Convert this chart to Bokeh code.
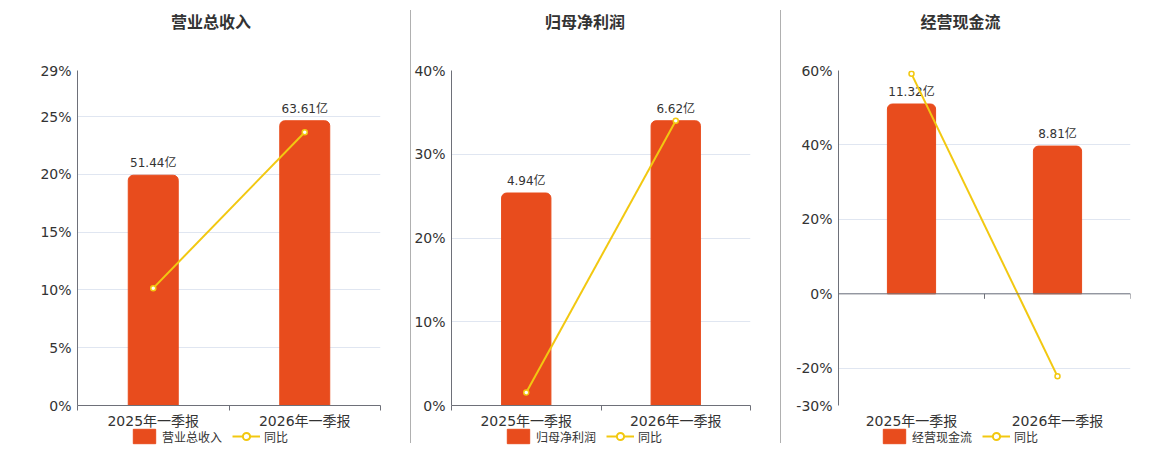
from bokeh.plotting import figure
from bokeh.models import (Range1d, FixedTicker, Legend, LegendItem, Span, Div, Label)
from bokeh.layouts import row, column
from bokeh.embed import file_html
from bokeh.resources import INLINE
from bokeh.core.properties import value

# ---------------- data ----------------
categories = ["2025年一季报", "2026年一季报"]
titles = ["营业总收入", "归母净利润", "经营现金流"]
revenue = [51.44, 63.61]
net_profit = [4.94, 6.62]
cash_flow = [11.32, 8.81]
revenue_labels = ["51.44亿", "63.61亿"]
net_profit_labels = ["4.94亿", "6.62亿"]
cash_flow_labels = ["11.32亿", "8.81亿"]
revenue_yoy = [10.16, 23.66]
net_profit_yoy = [1.55, 34.01]
cash_flow_yoy = [59.1, -22.17]
revenue_ticks = [0, 5, 10, 15, 20, 25, 29]
net_profit_ticks = [0, 10, 20, 30, 40]
cash_flow_ticks = [-30, -20, 0, 20, 40, 60]
yoy_name = "同比"

# ---------------- style ----------------
BAR = "#e84c1d"
LINE = "#f2c811"
AXIS = "#6e7079"
GRID = "#e0e6f1"
TEXT = "#333333"
FONT = "DejaVu Sans, Noto Sans CJK SC"
TITLE_H = 46
TOP, BOTTOM = 24, 29
FRAME_H = 335
H = TOP + FRAME_H + BOTTOM
LEG_H = 18

panels = [
    dict(title=titles[0], vals=revenue, labels=revenue_labels, yoy=revenue_yoy, ticks=revenue_ticks,
         width=410, left=77, right=30, legend_x=53, title_dx=-18),
    dict(title=titles[1], vals=net_profit, labels=net_profit_labels, yoy=net_profit_yoy, ticks=net_profit_ticks,
         width=369, left=36, right=30, legend_x=53, title_dx=-18),
    dict(title=titles[2], vals=cash_flow, labels=cash_flow_labels, yoy=cash_flow_yoy, ticks=cash_flow_ticks,
         width=377, left=57, right=28, legend_x=42, title_dx=-24),
]


def strip(width, height):
    f = figure(width=width, height=height, output_backend="svg", toolbar_location=None,
               title=None, x_range=Range1d(0, 1), y_range=Range1d(0, 1), min_border=0,
               outline_line_color=None, background_fill_alpha=0, border_fill_alpha=0)
    f.axis.visible = False
    f.grid.visible = False
    return f


def make_panel(cfg):
    n = len(categories)
    ymin, ymax = min(cfg["ticks"]), max(cfg["ticks"])
    frame_w = cfg["width"] - cfg["left"] - cfg["right"]
    xs = [i + 0.5 for i in range(n)]

    # title strip (its frame is aligned with the chart frame below)
    tf = strip(cfg["width"], TITLE_H)
    tf.add_layout(Label(x=frame_w / 2 + cfg["title_dx"], y=TITLE_H - 22,
                        x_units="screen", y_units="screen", text=cfg["title"],
                        text_align="center", text_baseline="middle",
                        text_font=FONT, text_font_size="16px", text_font_style="bold",
                        text_color=TEXT))

    p = figure(width=cfg["width"], height=H, output_backend="svg", toolbar_location=None,
               title=None, x_range=Range1d(0, n), y_range=Range1d(ymin, ymax),
               min_border_left=cfg["left"], min_border_right=cfg["right"],
               min_border_top=TOP, min_border_bottom=BOTTOM,
               outline_line_color=None, background_fill_color="white", border_fill_color="white")
    # hidden axis for bars, zero aligned with the line's zero, biggest bar at 85 %
    bar_hi = max(cfg["vals"]) / 0.85
    bar_lo = bar_hi * ymin / ymax
    p.extra_y_ranges = {"bar": Range1d(bar_lo, bar_hi)}

    # x axis
    xt = FixedTicker(ticks=xs, minor_ticks=list(range(n + 1)))
    p.xaxis.ticker = xt
    p.xaxis.major_label_overrides = {x: c for x, c in zip(xs, categories)}
    p.xaxis.major_tick_line_color = None
    p.xaxis.major_tick_out = 0
    p.xaxis.minor_tick_in = 0
    p.xaxis.minor_tick_out = 5
    p.xaxis.minor_tick_line_color = AXIS
    p.xaxis.axis_line_color = AXIS
    p.xaxis.major_label_text_font_size = "14px"
    p.xaxis.major_label_text_font = FONT
    p.xaxis.major_label_text_color = TEXT
    p.xaxis.major_label_standoff = 2
    p.xgrid.visible = False

    # y axis
    yt = FixedTicker(ticks=cfg["ticks"])
    p.yaxis.ticker = yt
    p.ygrid.ticker = yt
    p.yaxis.major_label_overrides = {t: f"{t}%" for t in cfg["ticks"]}
    p.yaxis.major_tick_line_color = None
    p.yaxis.minor_tick_line_color = None
    p.yaxis.major_tick_out = 0
    p.yaxis.major_label_standoff = 6
    p.yaxis.axis_line_color = AXIS
    p.yaxis.major_label_text_font_size = "14px"
    p.yaxis.major_label_text_font = FONT
    p.yaxis.major_label_text_color = TEXT
    p.ygrid.grid_line_color = GRID

    if ymin < 0:
        # category axis line sits at zero
        p.xaxis.axis_line_color = None
        p.xaxis.minor_tick_line_color = None
        p.add_layout(Span(location=0, dimension="width", line_color=AXIS, line_width=1))
        tick_len = 5 * (ymax - ymin) / FRAME_H
        tx = list(range(1, n + 1))
        p.segment(x0=tx, y0=[0] * len(tx), x1=tx, y1=[-tick_len] * len(tx),
                  line_color=AXIS, line_width=1)

    p.vbar(x=xs, top=cfg["vals"], bottom=0, width=0.33, y_range_name="bar",
           fill_color=BAR, line_color=BAR, border_radius=(5, 5, 0, 0))
    p.text(x=xs, y=cfg["vals"], text=cfg["labels"], y_range_name="bar",
           text_align="center", text_baseline="bottom", y_offset=-5,
           text_font=value(FONT), text_font_size="12px", text_color=TEXT)
    p.line(xs, cfg["yoy"], line_color=LINE, line_width=2)
    p.scatter(xs, cfg["yoy"], size=5, fill_color="white", line_color=LINE, line_width=1.5)

    # legend strip underneath: hidden copies of the series give the legend its glyphs
    lf = strip(cfg["width"], LEG_H)
    lf.margin = (-6, 0, 0, 0)
    lb = lf.vbar(x=xs, top=cfg["vals"], width=0.33, fill_color=BAR, line_color=BAR, visible=False)
    ll = lf.line(xs, cfg["yoy"], line_color=LINE, line_width=2, visible=False)
    lm = lf.scatter(xs, cfg["yoy"], fill_color="white", line_color=LINE, line_width=2, visible=False)
    legend = Legend(items=[LegendItem(label=cfg["title"], renderers=[lb]),
                           LegendItem(label=yoy_name, renderers=[ll, lm])],
                    location=(cfg["legend_x"], 1), orientation="horizontal",
                    padding=0, margin=0, border_line_color=None, background_fill_alpha=0,
                    glyph_width=28, glyph_height=18, label_height=18, label_standoff=4,
                    spacing=10, label_text_font=FONT, label_text_font_size="12px",
                    label_text_color=TEXT)
    lf.add_layout(legend)
    return column(tf, p, lf, spacing=0)


def separator():
    return Div(text="", width=1, height=433, margin=(10, 0, 0, 0),
               styles={"background-color": "#b0b0b0"})


cols = [make_panel(c) for c in panels]
layout = row(cols[0], separator(), cols[1], separator(), cols[2], spacing=0)

open("out.html", "w").write(file_html(layout, INLINE))
